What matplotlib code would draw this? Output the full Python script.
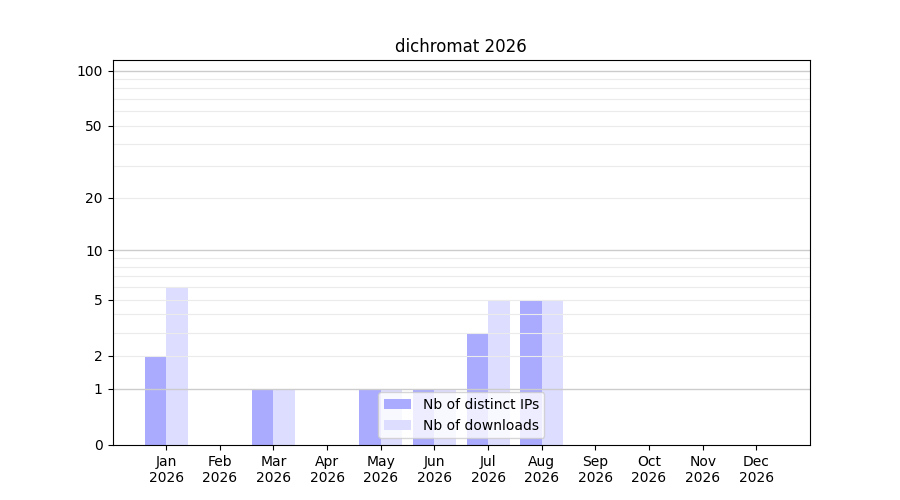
import numpy as np
import matplotlib
matplotlib.use("Agg")
import matplotlib.pyplot as plt

# Daten
monate = ["Jan", "Feb", "Mar", "Apr", "May", "Jun", "Jul", "Aug", "Sep", "Oct", "Nov", "Dec"]
jahr = "2026"
distinct_ips = [2, 0, 1, 0, 1, 1, 3, 5, 0, 0, 0, 0]
downloads = [6, 0, 1, 0, 1, 1, 5, 5, 0, 0, 0, 0]

x = np.arange(len(monate))
breite = 0.4

fig, ax = plt.subplots(figsize=(9, 5), dpi=100)

# y-Achse: log10(1 + y)
ax.set_yscale("function", functions=(lambda v: np.log10(1 + np.clip(v, 0, None)),
                                     lambda v: 10 ** v - 1))

ax.bar(x - breite / 2, distinct_ips, width=breite, color="#aaaaff", label="Nb of distinct IPs", zorder=1)
ax.bar(x + breite / 2, downloads, width=breite, color="#ddddff", label="Nb of downloads", zorder=1)

# Gitterlinien (über den Balken)
for v in [1, 10, 100]:
    ax.axhline(v, color="#cccccc", linewidth=1, zorder=2)
for v in list(range(2, 10)) + list(range(20, 100, 10)):
    ax.axhline(v, color="#ebebeb", linewidth=0.8, zorder=2)

ax.set_yticks([0, 1, 2, 5, 10, 20, 50, 100])
ax.set_yticklabels(["0", "1", "2", "5", "10", "20", "50", "100"])
ax.minorticks_off()
ax.set_ylim(0, 114)

ax.set_xticks(x)
ax.set_xticklabels([f"{m}\n{jahr}" for m in monate])
ax.set_xlim(-1, 12)

ax.set_title(f"dichromat {jahr}")
ax.legend(loc="lower center")

plt.savefig("out.png", dpi=100, facecolor="white")
